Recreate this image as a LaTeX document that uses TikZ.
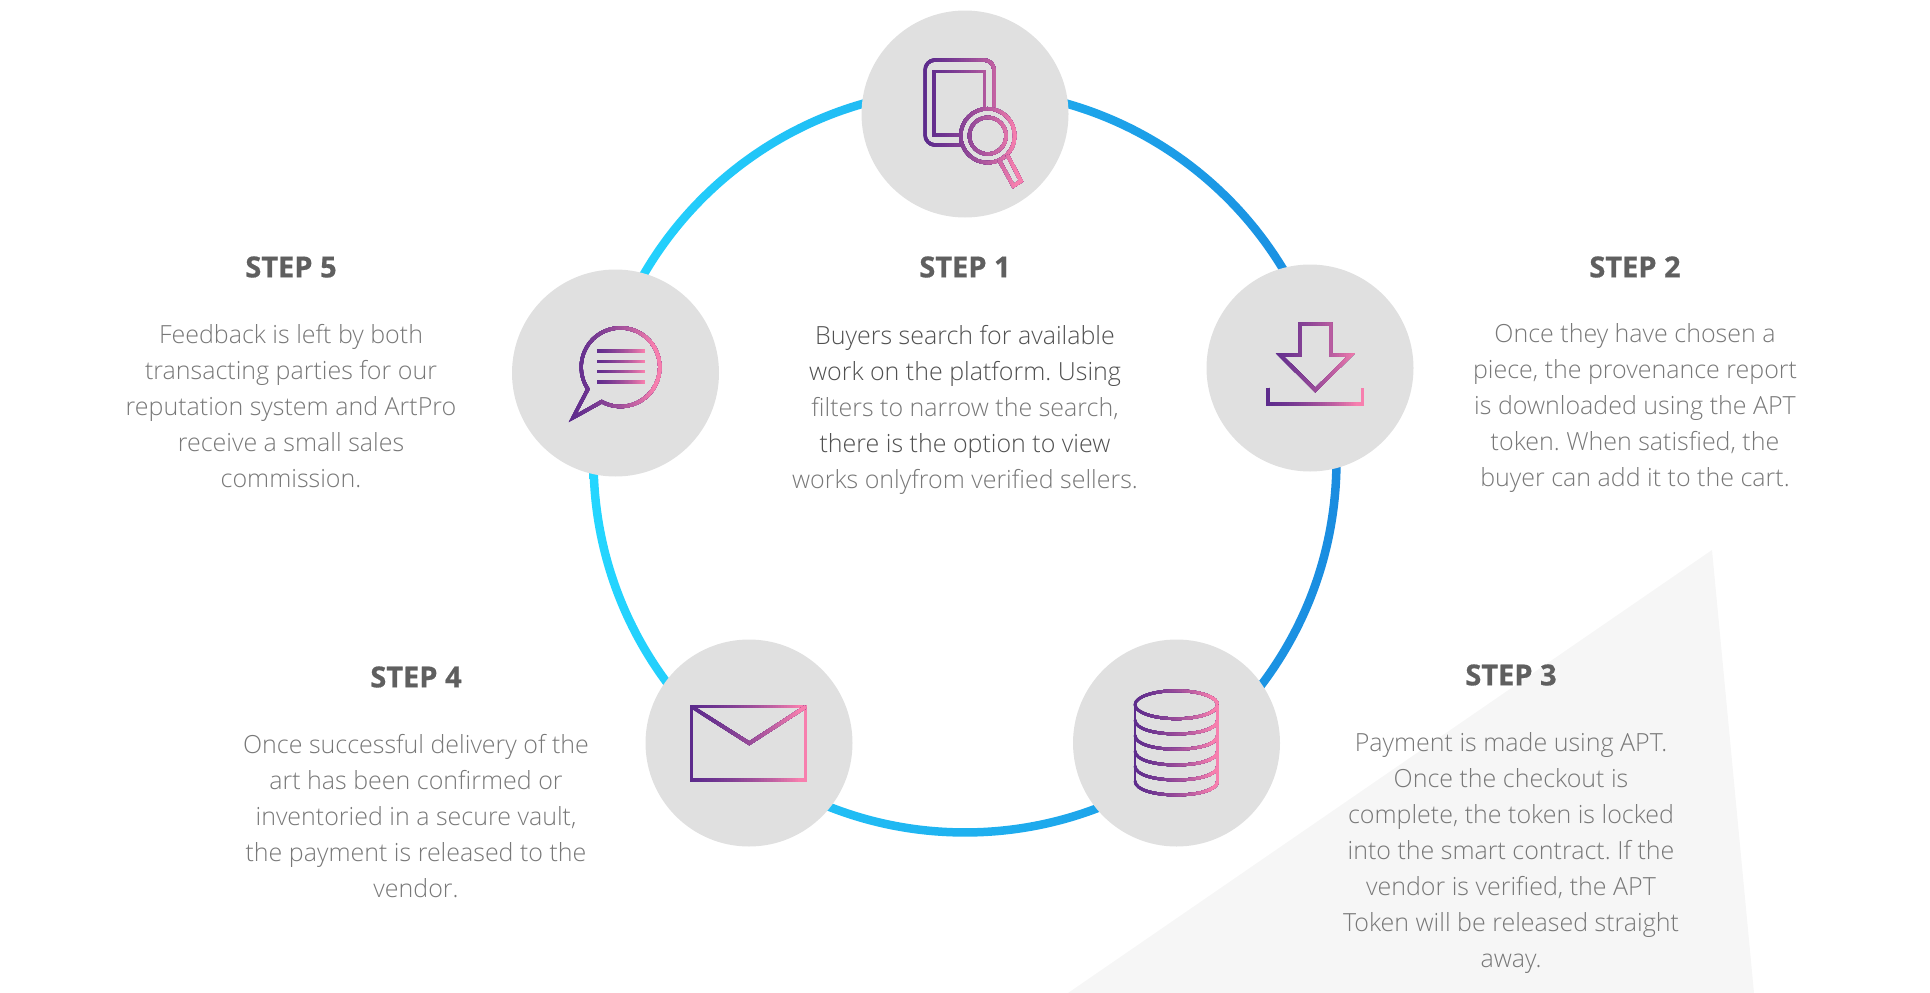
\documentclass[tikz,border=0pt]{standalone}
\usepackage{fontspec}
\setmainfont{Open Sans Light}[BoldFont={Open Sans Bold},BoldFeatures={FakeBold=0.6}]
\definecolor{iconpurple}{HTML}{5B2A8C}
\definecolor{iconpink}{HTML}{F77FAE}
\definecolor{ringleft}{HTML}{24D6FF}
\definecolor{ringmid}{HTML}{21C0F8}
\definecolor{ringright}{HTML}{1A8CE0}
\definecolor{discgray}{HTML}{E0E0E0}
\definecolor{wedgegray}{HTML}{F6F6F6}
\definecolor{headgray}{HTML}{5F5F5F}
\definecolor{bodygray}{HTML}{787878}
\definecolor{bodydark}{HTML}{505050}
\tikzset{
    stepdisc/.style={circle, fill=discgray, minimum size=207pt, inner sep=0pt},
    stephead/.style={font=\fontsize{29}{32}\selectfont\bfseries, text=headgray, inner sep=0pt},
    stepbody/.style={font=\fontsize{25}{36}\selectfont\frenchspacing, text=bodygray, align=center, inner sep=0pt},
    iconline/.style={line width=3.4pt, line join=miter, miter limit=10},
    iconthin/.style={line width=2.8pt, line join=round}
}
% strokes a path with a left-to-right gradient: [style], x from, x to, path
\newcommand{\gradstroke}[4][]{%
    \foreach \k in {0,...,39}{
        \pgfmathsetmacro{\stript}{\k/39}
        \pgfmathsetmacro{\mixpct}{100*(0.4*\stript+0.6*\stript*\stript)}
        \pgfmathsetmacro{\stripx}{#2+(#3-#2)*\k/40}
        \colorlet{iconmix}{iconpink!\mixpct!iconpurple}
        \begin{scope}
            \clip (\stripx-5,0) rectangle (#3+5,993);
            \draw[iconline, #1, draw=iconmix] #4;
        \end{scope}
    }%
}
\begin{document}
\begin{tikzpicture}[x=1pt,y=-1pt]
    \useasboundingbox (0,0) rectangle (1930,993);

    % Background wedge
    \fill[wedgegray] (1712,550) -- (1068,993) -- (1754,993) -- cycle;

    % Ring
    \shade[left color=ringleft, middle color=ringmid, right color=ringright, even odd rule]
        (965,461) circle (375.7) (965,461) circle (367.2);

    % Discs
    \node[stepdisc] (search) at (965,114) {};
    \node[stepdisc] (download) at (1310,368) {};
    \node[stepdisc] (payment) at (1176.5,743) {};
    \node[stepdisc] (delivery) at (749,743) {};
    \node[stepdisc] (feedback) at (615.5,373) {};

    % Icon search
    \gradstroke{925}{1022}{(994,108) [rounded corners=10pt] -- (994,60) -- (925,60) -- (925,145) [sharp corners] -- (960,145)}
    \gradstroke{925}{1022}{(984.3,107) -- (984.3,71.7) -- (934,71.7) -- (934,135) -- (960.7,135)}
    \gradstroke{925}{1022}{(987.7,135.7) circle (27) (987.7,135.7) circle (18.3)}
    \gradstroke{925}{1022}{(999,160) -- (1013.3,186) -- (1021,181) -- (1007.3,155)}

    % Icon download
    \gradstroke{1268}{1363}{(1300,355) -- (1300,324) -- (1330.7,324) -- (1330.7,355) -- (1350.7,355) -- (1315.3,390) -- (1280,355) -- cycle}
    \gradstroke{1268}{1363}{(1268,387.7) -- (1268,404) -- (1362.7,404) -- (1362.7,387.7)}

    % Icon database
    \gradstroke[iconthin]{1135}{1218}{(1176.3,704.7) ellipse [x radius=41.3, y radius=14]}
    \foreach \ya in {720,735.3,751,766,781}{
        \gradstroke[iconthin]{1135}{1218}{(1135,\ya) .. controls (1135,\ya+18.6) and (1217.6,\ya+18.6) .. (1217.6,\ya)}
    }
    \gradstroke[iconthin]{1135}{1218}{(1135,704.7) -- (1135,781) (1217.6,704.7) -- (1217.6,781)}

    % Icon envelope
    \gradstroke{692}{806}{(691.7,706.7) rectangle (805.7,780)}
    \gradstroke{692}{806}{(691.7,706.7) -- (749.3,743.3) -- (805.7,706.7)}

    % Icon speech bubble
    \gradstroke{572}{660}{(588.3,388.3) -- (572.7,418) -- (601.7,401.7) arc[start angle=241.5, delta angle=332.3, radius=39.3pt]}
    \foreach \ya in {351,361.3,371.7,382}{
        \gradstroke{597}{650}{(597,\ya) -- (644.7,\ya)}
    }

    % Texts
    \node[stephead] (head one) at (965,267) {STEP 1};
    \node[stepbody] (body one) at (965,410) {\textcolor{bodydark}{Buyers search for available}\\
        \textcolor{bodydark}{work on the platform. Using}\\
        filters to narrow the search,\\
        \textcolor{bodydark}{there is the option to view}\\
        works onlyfrom verified sellers.};

    \node[stephead] (head two) at (1635,267) {STEP 2};
    \node[stepbody] (body two) at (1635,408) {Once they have chosen a\\
        piece, the provenance report\\
        is downloaded using the APT\\
        token. When satisfied, the\\
        buyer can add it to the cart.};

    \node[stephead] (head three) at (1511,675) {STEP 3};
    \node[stepbody] (body three) at (1511,853) {Payment is made using APT.\\
        Once the checkout is\\
        complete, the token is locked\\
        into the smart contract. If the\\
        vendor is verified, the APT\\
        Token will be released straight\\
        away.};

    \node[stephead] (head four) at (416,677) {STEP 4};
    \node[stepbody] (body four) at (416,816) {Once successful delivery of the\\
        art has been confirmed or\\
        inventoried in a secure vault,\\
        the payment is released to the\\
        vendor.};

    \node[stephead] (head five) at (291,267) {STEP 5};
    \node[stepbody] (body five) at (291,406) {Feedback is left by both\\
        transacting parties for our\\
        reputation system and ArtPro\\
        receive a small sales\\
        commission.};
\end{tikzpicture}
\end{document}
